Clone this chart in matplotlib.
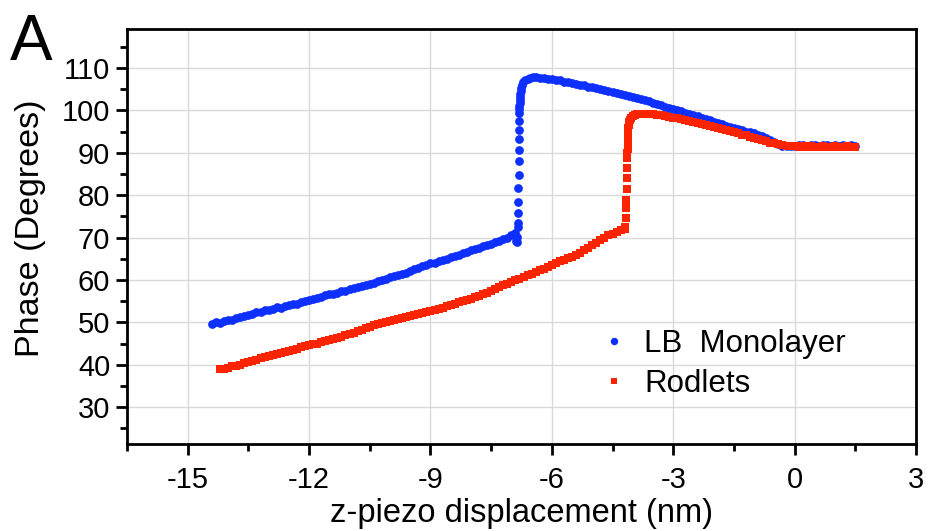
import matplotlib
matplotlib.use("Agg")
import matplotlib.pyplot as plt
from matplotlib.ticker import MultipleLocator

plt.rcParams["font.family"] = ["Liberation Sans", "DejaVu Sans"]
plt.rcParams["axes.unicode_minus"] = False

# ---- data ----
# LB Monolayer (blue): ramp before the jump
blue_low_x = [-14.4, -14.3, -14.2, -14.1, -14.0, -13.9, -13.8, -13.7, -13.6, -13.5,
              -13.4, -13.3, -13.2, -13.1, -13.0, -12.9, -12.8, -12.7, -12.6, -12.5,
              -12.4, -12.3, -12.2, -12.1, -12.0, -11.9, -11.8, -11.7, -11.6, -11.5,
              -11.4, -11.3, -11.2, -11.1, -11.0, -10.9, -10.8, -10.7, -10.6, -10.5,
              -10.4, -10.3, -10.2, -10.1, -10.0, -9.9, -9.8, -9.7, -9.6, -9.5,
              -9.4, -9.3, -9.2, -9.1, -9.0, -8.9, -8.8, -8.7, -8.6, -8.5,
              -8.4, -8.3, -8.2, -8.1, -8.0, -7.9, -7.8, -7.7, -7.6, -7.5,
              -7.4, -7.3, -7.2, -7.1, -7.0, -6.9]
blue_low_y = [49.7, 50.2, 49.9, 50.4, 50.6, 50.5, 51.0, 51.2, 51.4, 51.8,
              51.9, 52.4, 52.5, 52.9, 53.0, 53.1, 53.6, 53.5, 53.9, 54.0,
              54.3, 54.4, 54.8, 55.0, 55.2, 55.4, 55.8, 55.9, 56.4, 56.6,
              56.8, 57.0, 57.4, 57.5, 57.8, 58.0, 58.3, 58.6, 58.8, 59.1,
              59.4, 59.7, 60.0, 60.2, 60.6, 60.9, 61.1, 61.5, 61.7, 62.1,
              62.5, 62.8, 63.2, 63.5, 64.0, 64.1, 64.5, 64.7, 65.0, 65.3,
              65.7, 66.0, 66.4, 66.6, 67.0, 67.4, 67.6, 68.0, 68.2, 68.6,
              68.9, 69.3, 69.6, 70.0, 70.5, 71.0]
# blue jump
blue_jump_x = [-6.88, -6.86, -6.85, -6.84, -6.84, -6.83, -6.83, -6.83, -6.82, -6.82,
               -6.82, -6.81, -6.81, -6.80, -6.80, -6.80, -6.80, -6.79, -6.79, -6.79,
               -6.78, -6.77, -6.76, -6.74, -6.71, -6.66, -6.60, -6.53, -6.46]
blue_jump_y = [69.3, 70.1, 68.9, 72.4, 73.4, 75.8, 78.5, 81.7, 84.8, 88.0,
               90.7, 93.2, 95.4, 97.4, 99.4, 100.3, 101.0, 101.7, 102.4, 103.1,
               103.8, 104.5, 105.2, 105.9, 106.6, 107.1, 107.5, 107.7, 107.8]
# blue after the jump
blue_high_x = [-6.4, -6.3, -6.2, -6.1, -6.0, -5.9, -5.8, -5.7, -5.6, -5.5,
               -5.4, -5.3, -5.2, -5.1, -5.0, -4.9, -4.8, -4.7, -4.6, -4.5,
               -4.4, -4.3, -4.2, -4.1, -4.0, -3.9, -3.8, -3.7, -3.6, -3.5,
               -3.4, -3.3, -3.2, -3.1, -3.0, -2.9, -2.8, -2.7, -2.6, -2.5,
               -2.4, -2.3, -2.2, -2.1, -2.0, -1.9, -1.8, -1.7, -1.6, -1.5,
               -1.4, -1.3, -1.2, -1.1, -1.0, -0.9, -0.8, -0.7, -0.6, -0.5,
               -0.4, -0.3, -0.2, -0.1, 0.0, 0.1, 0.2, 0.3, 0.4, 0.5,
               0.6, 0.7, 0.8, 0.9, 1.0, 1.1, 1.2, 1.3, 1.4, 1.5]
blue_high_y = [107.8, 107.7, 107.7, 107.5, 107.4, 107.2, 107.1, 106.8, 106.7, 106.4,
               106.3, 106.0, 105.9, 105.6, 105.4, 105.2, 105.0, 104.7, 104.6, 104.3,
               104.1, 103.9, 103.6, 103.4, 103.2, 102.9, 102.6, 102.4, 102.1, 101.8,
               101.5, 101.2, 100.9, 100.6, 100.3, 100.1, 99.8, 99.5, 99.2, 98.9,
               98.6, 98.3, 98.0, 97.7, 97.3, 97.0, 96.7, 96.4, 96.1, 95.8,
               95.6, 95.3, 95.0, 94.8, 94.6, 94.3, 94.0, 93.6, 93.1, 92.6,
               92.1, 91.7, 91.5, 91.5, 91.7, 91.8, 91.8, 91.7, 91.8, 91.8,
               91.7, 91.8, 91.8, 91.7, 91.8, 91.7, 91.8, 91.7, 91.8, 91.7]

# Rodlets (red): ramp before the jump
red_low_x = [-14.2, -14.1, -14.0, -13.9, -13.8, -13.7, -13.6, -13.5, -13.4, -13.3,
             -13.2, -13.1, -13.0, -12.9, -12.8, -12.7, -12.6, -12.5, -12.4, -12.3,
             -12.2, -12.1, -12.0, -11.9, -11.8, -11.7, -11.6, -11.5, -11.4, -11.3,
             -11.2, -11.1, -11.0, -10.9, -10.8, -10.7, -10.6, -10.5, -10.4, -10.3,
             -10.2, -10.1, -10.0, -9.9, -9.8, -9.7, -9.6, -9.5, -9.4, -9.3,
             -9.2, -9.1, -9.0, -8.9, -8.8, -8.7, -8.6, -8.5, -8.4, -8.3,
             -8.2, -8.1, -8.0, -7.9, -7.8, -7.7, -7.6, -7.5, -7.4, -7.3,
             -7.2, -7.1, -7.0, -6.9, -6.8, -6.7, -6.6, -6.5, -6.4, -6.3,
             -6.2, -6.1, -6.0, -5.9, -5.8, -5.7, -5.6, -5.5, -5.4, -5.3,
             -5.2, -5.1, -5.0, -4.9, -4.8, -4.7, -4.6, -4.5, -4.4, -4.3,
             -4.2]
red_low_y = [38.9, 39.1, 39.3, 39.6, 39.8, 40.0, 40.3, 40.6, 40.9, 41.2,
             41.5, 41.8, 42.0, 42.3, 42.5, 42.8, 43.0, 43.3, 43.5, 43.8,
             44.1, 44.4, 44.6, 44.8, 45.0, 45.3, 45.5, 45.8, 46.0, 46.3,
             46.6, 46.9, 47.3, 47.6, 47.9, 48.3, 48.6, 48.9, 49.3, 49.6,
             49.8, 50.1, 50.3, 50.6, 50.8, 51.1, 51.3, 51.6, 51.8, 52.0,
             52.2, 52.4, 52.6, 52.9, 53.2, 53.5, 53.8, 54.1, 54.4, 54.7,
             55.0, 55.3, 55.6, 55.9, 56.3, 56.6, 57.0, 57.4, 57.9, 58.3,
             58.7, 59.1, 59.5, 59.9, 60.3, 60.7, 61.1, 61.5, 61.9, 62.3,
             62.7, 63.1, 63.5, 63.9, 64.4, 64.8, 65.1, 65.5, 65.9, 66.3,
             67.0, 67.6, 68.2, 68.8, 69.4, 69.9, 70.5, 70.9, 71.3, 71.7,
             72.0]
# red jump
red_jump_x = [-4.18, -4.17, -4.16, -4.16, -4.15, -4.15, -4.14, -4.14, -4.14, -4.13,
              -4.13, -4.13, -4.12, -4.12, -4.11, -4.11, -4.10, -4.09, -4.07, -4.04,
              -4.00, -3.95, -3.89, -3.82, -3.75, -3.68]
red_jump_y = [72.6, 74.6, 77.0, 78.9, 81.4, 84.0, 86.5, 88.7, 89.9, 90.8,
              91.7, 92.6, 93.5, 94.3, 95.1, 95.9, 96.6, 97.2, 97.8, 98.3,
              98.6, 98.9, 99.1, 99.2, 99.2, 99.2]
# red after the jump
red_high_x = [-3.6, -3.5, -3.4, -3.3, -3.2, -3.1, -3.0, -2.9, -2.8, -2.7,
              -2.6, -2.5, -2.4, -2.3, -2.2, -2.1, -2.0, -1.9, -1.8, -1.7,
              -1.6, -1.5, -1.4, -1.3, -1.2, -1.1, -1.0, -0.9, -0.8, -0.7,
              -0.6, -0.5, -0.4, -0.3, -0.2, -0.1, 0.0, 0.1, 0.2, 0.3,
              0.4, 0.5, 0.6, 0.7, 0.8, 0.9, 1.0, 1.1, 1.2, 1.3,
              1.4, 1.5]
red_high_y = [99.2, 99.1, 99.0, 98.8, 98.7, 98.5, 98.3, 98.1, 97.9, 97.7,
              97.5, 97.3, 97.0, 96.8, 96.6, 96.3, 96.1, 95.8, 95.6, 95.3,
              95.1, 94.8, 94.6, 94.3, 94.1, 93.8, 93.6, 93.3, 93.0, 92.7,
              92.4, 92.2, 92.0, 91.8, 91.6, 91.5, 91.5, 91.4, 91.5, 91.4,
              91.5, 91.4, 91.4, 91.5, 91.4, 91.4, 91.5, 91.4, 91.4, 91.5,
              91.4, 91.4]

blue_x = blue_low_x + blue_jump_x + blue_high_x
blue_y = blue_low_y + blue_jump_y + blue_high_y
red_x = red_low_x + red_jump_x + red_high_x
red_y = red_low_y + red_jump_y + red_high_y

x_ticks = [-15, -12, -9, -6, -3, 0, 3]
y_ticks = [30, 40, 50, 60, 70, 80, 90, 100, 110]

fig = plt.figure(figsize=(9.29, 5.31), dpi=100)
ax = fig.add_axes([0.1367, 0.1638, 0.8493, 0.7816])

ax.plot(blue_x, blue_y, 'o', color='#0d30ff', markersize=6.3, markeredgewidth=0,
        label='LB  Monolayer')
ax.plot(red_x, red_y, 's', color='#ff2400', markersize=5.6, markeredgewidth=0,
        label='Rodlets')

ax.set_xlim(-16.5, 3)
ax.set_ylim(21.3, 119.2)
ax.set_xticks(x_ticks)
ax.set_yticks(y_ticks)
ax.xaxis.set_minor_locator(MultipleLocator(1.5))
ax.yaxis.set_minor_locator(MultipleLocator(5))
ax.set_axisbelow(True)
ax.grid(True, which='major', color='#d9d9d9', linewidth=1)

for s in ax.spines.values():
    s.set_linewidth(2)
ax.tick_params(which='major', direction='out', length=8, width=2, labelsize=21)
ax.tick_params(which='minor', direction='out', length=5, width=2)
ax.tick_params(axis='x', which='major', pad=8)
ax.tick_params(axis='y', which='major', pad=4)

ax.set_xlabel('z-piezo displacement (nm)', fontsize=23.5, labelpad=3)
ax.set_ylabel('Phase (Degrees)', fontsize=24.5)
ax.yaxis.set_label_coords(-0.103, 0.52)

leg = ax.legend(loc='center left', bbox_to_anchor=(0.602, 0.193), frameon=False,
                fontsize=22.5, handlelength=0.8, handletextpad=0.55, labelspacing=0.3,
                borderpad=0, borderaxespad=0, markerscale=0.85)

fig.text(0.011, 0.887, 'A', fontsize=46, va='baseline')

fig.savefig('out.png', dpi=100)
